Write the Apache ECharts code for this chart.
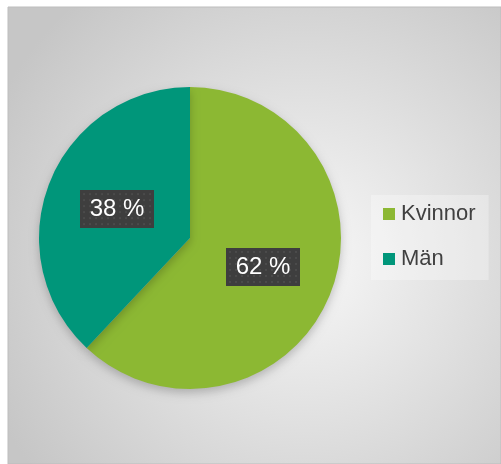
<!DOCTYPE html>
<html>
<head>
<meta charset="utf-8">
<script src="https://cdn.jsdelivr.net/npm/echarts@6/dist/echarts.min.js"></script>
<style>
  html, body { margin: 0; padding: 0; background: #fff; }
  #chart { width: 501px; height: 464px; }
</style>
</head>
<body>
<div id="chart"></div>
<script>
var categories = ['Kvinnor', 'Män']
var values = [62, 38]
var colors = ['#8cb833', '#00967a']

// mörk etikettbakgrund med prickmönster
function makePattern(w, h) {
  var c = document.createElement('canvas')
  c.width = w
  c.height = h
  var ctx = c.getContext('2d')
  ctx.fillStyle = '#3e3e3e'
  ctx.fillRect(0, 0, w, h)
  ctx.fillStyle = '#4b4b4b'
  for (var y = 3; y < h; y += 6) {
    for (var x = 3; x < w; x += 6) {
      ctx.fillRect(x, y, 2, 2)
    }
  }
  return c
}

var chart = echarts.init(document.getElementById('chart'))

chart.setOption({
  animation: false,
  color: colors,
  graphic: [{
    type: 'rect',
    z: -10,
    shape: { x: 8, y: 7, width: 493, height: 457 },
    style: {
      fill: {
        type: 'radial', x: 0.6, y: 0.55, r: 0.75,
        colorStops: [
          { offset: 0, color: '#f8f8f8' },
          { offset: 1, color: '#c6c6c6' }
        ]
      },
      stroke: '#bdbdbd',
      lineWidth: 1
    }
  }],
  legend: {
    orient: 'vertical',
    left: 371,
    top: 195,
    padding: [8, 13, 10, 12],
    backgroundColor: 'rgba(255,255,255,0.3)',
    itemWidth: 12,
    itemHeight: 12,
    itemGap: 23,
    icon: 'rect',
    data: categories,
    textStyle: {
      fontFamily: 'Liberation Sans',
      fontSize: 22,
      lineHeight: 22,
      color: '#404040',
      padding: [0, 0, 0, 1]
    }
  },
  series: [{
    type: 'pie',
    center: [190, 238],
    radius: [0, 151],
    startAngle: 90,
    clockwise: true,
    data: categories.map(function (name, i) {
      return { name: name, value: values[i] }
    }),
    itemStyle: {
      shadowBlur: 10,
      shadowColor: 'rgba(0,0,0,0.22)',
      shadowOffsetY: 4
    },
    emphasis: { disabled: true },
    label: {
      position: 'inside',
      formatter: function (p) { return p.value + ' %' },
      fontFamily: 'Liberation Sans',
      fontSize: 24,
      color: '#fff',
      width: 74,
      height: 38,
      lineHeight: 38,
      align: 'center',
      verticalAlign: 'middle',
      backgroundColor: { image: makePattern(74, 38) },
      shadowColor: 'rgba(0,0,0,0.45)',
      shadowBlur: 6,
      shadowOffsetX: 3,
      shadowOffsetY: 3
    },
    labelLine: { show: false }
  }]
})
</script>
</body>
</html>
